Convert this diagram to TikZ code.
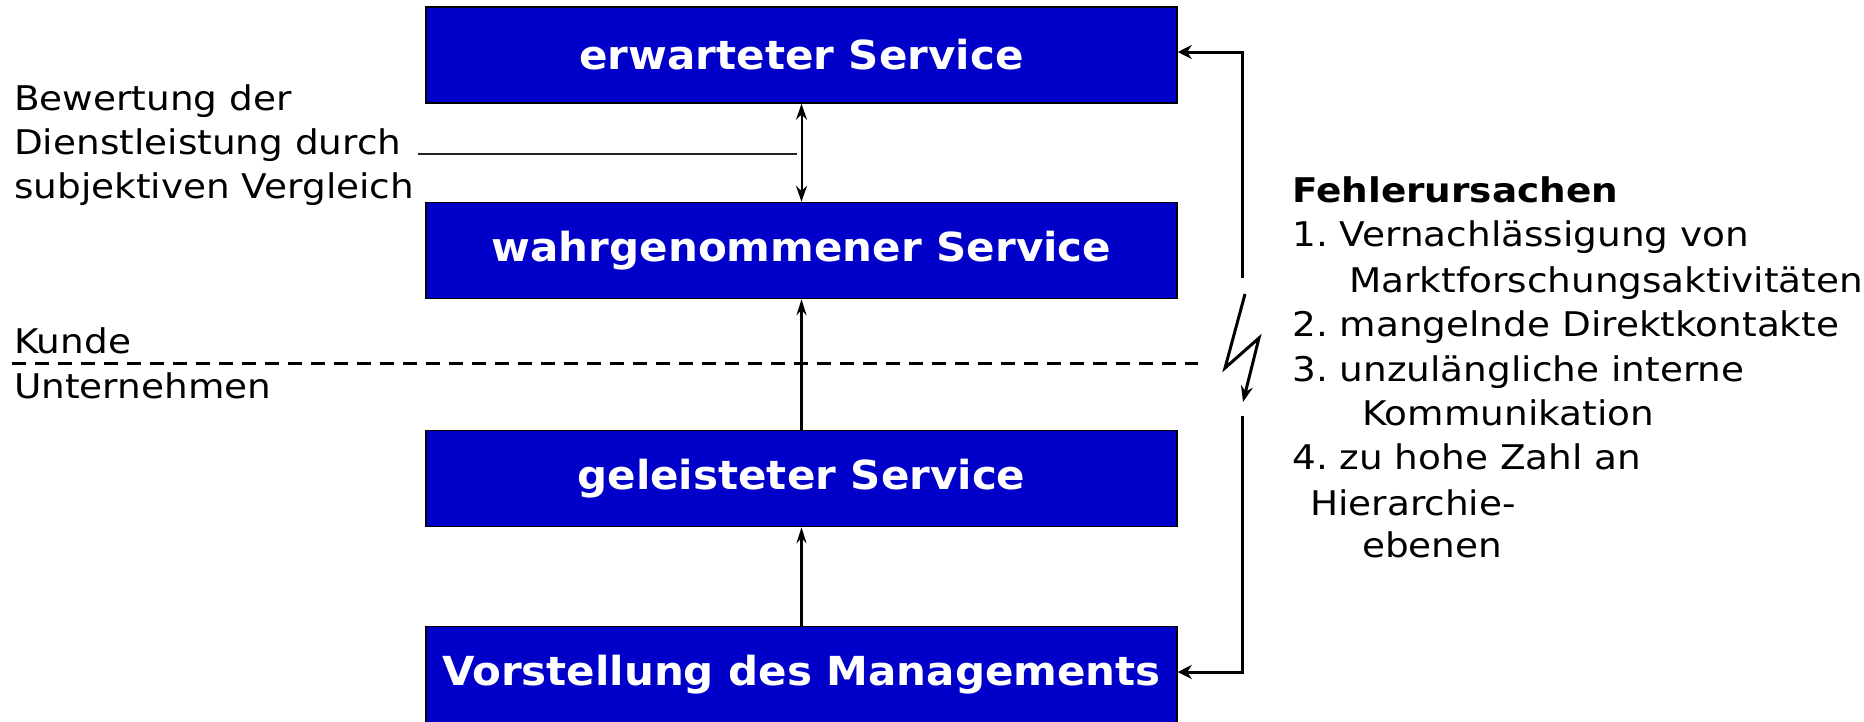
\documentclass[tikz,border=0pt]{standalone}
\usepackage{fontspec}
\setmainfont[FakeStretch=1.1]{DejaVu Sans}
\newfontfamily\boxfont[FakeStretch=1.05]{DejaVu Sans}
\usetikzlibrary{arrows.meta}
\definecolor{boxblue}{RGB}{0,0,200}
\frenchspacing
\begin{document}
\begin{tikzpicture}[x=1pt,y=-1pt,
  servicebox/.style={draw=black,line width=1.5pt,fill=boxblue,text=white,
    minimum width=751pt,minimum height=96pt,inner sep=0pt,
    font=\fontsize{40}{48}\boxfont\bfseries},
  plain/.style={inner sep=0pt,anchor=base west,font=\fontsize{34}{40}\selectfont},
  thinarrow/.style={line width=2.2pt,-{Stealth[length=16pt,width=10pt]}},
  thickarrow/.style={line width=3pt,-{Stealth[length=14pt,width=14pt]}}]
\useasboundingbox (0,0) rectangle (1864,721);

% service boxes
\node[servicebox] (erw) at (801.5,55) {erwarteter Service};
\node[servicebox] (wahr) at (801.5,250.5) {wahrgenommener Service};
\node[servicebox] (gel) at (801.5,478.5) {geleisteter Service};
\node[servicebox] (vor) at (801.5,674.5) {Vorstellung des Managements};

% connections between the boxes
\draw[line width=2pt,{Stealth[length=16pt,width=11pt]}-{Stealth[length=16pt,width=11pt]}] (erw.south) -- (wahr.north);
\draw[thinarrow] (vor.north) -- (gel.south);
\draw[thinarrow] (gel.north) -- (wahr.south);

% comparison label
\node[plain] (bew1) at (14,110) {Bewertung der};
\node[plain] (bew2) at (14,154) {Dienstleistung durch};
\node[plain] (bew3) at (14,198) {subjektiven Vergleich};
\coordinate (lineL) at (418,154);
\coordinate (lineR) at (797,154);
\draw[line width=1.5pt,black!85] (lineL) -- (lineR);

% customer / company boundary
\coordinate (dashL) at (12,363);
\coordinate (dashR) at (1198,363);
\draw[line width=3pt,dash pattern=on 14pt off 9pt] (dashL) -- (dashR);
\node[plain] (kunde) at (14,353) {Kunde};
\node[plain] (unt) at (14,398) {Unternehmen};

% feedback bracket with interruption
\coordinate (brTop) at (1242,52);
\coordinate (brTopEnd) at (1242,278);
\coordinate (brBotStart) at (1242,416);
\coordinate (brBot) at (1242,672);
\draw[thickarrow] (brTopEnd) -- (brTop) -- (erw.east |- brTop);
\draw[thickarrow] (brBotStart) -- (brBot) -- (vor.east |- brBot);

% lightning bolt
\coordinate (l1) at (1245,294);
\coordinate (l2) at (1225,368);
\coordinate (l3) at (1259,338);
\coordinate (l4) at (1243,402);
\draw[line width=3pt,line join=miter,-{Stealth[length=16pt,width=12pt]}] (l1) -- (l2) -- (l3) -- (l4);

% list of causes
\node[plain,font=\fontsize{34}{40}\selectfont\bfseries] (fehler) at (1292,202) {Fehlerursachen};
\node[plain] (c1) at (1292,246) {1. Vernachlässigung von};
\node[plain] (c1b) at (1349,292) {Marktforschungsaktivitäten};
\node[plain] (c2) at (1292,336) {2. mangelnde Direktkontakte};
\node[plain] (c3) at (1292,381) {3. unzulängliche interne};
\node[plain] (c3b) at (1362,425) {Kommunikation};
\node[plain] (c4) at (1292,469) {4. zu hohe Zahl an};
\node[plain] (c4b) at (1310,515) {Hierarchie-};
\node[plain] (c4c) at (1362,557) {ebenen};
\end{tikzpicture}
\end{document}
